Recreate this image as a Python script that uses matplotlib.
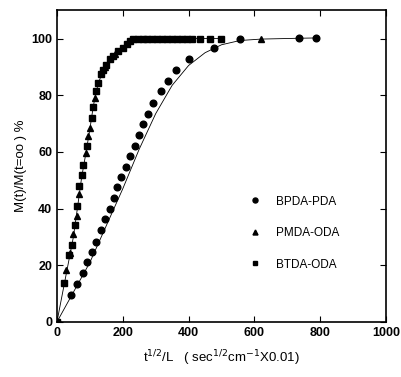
import numpy as np
import matplotlib
matplotlib.use('Agg')
import matplotlib.pyplot as plt

plt.rcParams['font.family'] = ['Liberation Sans', 'DejaVu Sans']

# BPDA-PDA (circles)
bpda_x = [0, 42, 62, 78, 92, 107, 120, 134, 147, 161, 173, 183, 195, 209, 222, 237, 250, 262,
          276, 291, 315, 336, 361, 401, 477, 556, 736, 786]
bpda_y = [0, 9.5, 13.4, 17.2, 21, 24.8, 28.3, 32.5, 36.3, 40, 43.7, 47.6, 51, 54.6, 58.5, 62.2,
          66, 70, 73.5, 77.1, 81.4, 85, 89, 92.6, 96.5, 100, 100.2, 100.2]
# PMDA-ODA (triangles)
pmda_x = [0, 29, 40, 50, 60, 68, 88, 95, 100, 115, 145, 175, 620]
pmda_y = [0, 18.4, 24.5, 31, 37.5, 45, 59.6, 65.5, 68.4, 79, 90, 94.5, 100]
# BTDA-ODA (squares)
btda_x = [0, 22, 36, 45, 55, 62, 67, 75, 80, 92, 105, 109, 120, 126, 135, 141, 150, 161, 170,
          186, 200, 212, 222, 232, 245, 260, 275, 290, 305, 320, 335, 350, 365, 380, 395, 410,
          434, 465, 497]
btda_y = [0, 13.7, 23.7, 27.2, 34.3, 41, 47.8, 52, 55.5, 62, 72, 76, 81.5, 84.3, 87.5, 89, 90.8,
          92.6, 93.8, 95.5, 96.8, 97.9, 99, 99.9, 100, 100, 100, 100, 100, 100, 100, 100, 100,
          100, 100, 100, 100, 100, 100]

# fitted curves
fit_slow_x = [0, 100, 200, 250, 300, 350, 400, 450, 500, 556, 620, 736, 786]
fit_slow_y = [0, 21, 47, 61, 73.5, 83.5, 90.5, 95, 97.8, 99.3, 99.8, 100.1, 100.2]
fit_fast_x = [0, 25, 50, 62, 75, 88, 100, 109, 116, 126, 141, 161, 186, 212, 232, 300, 400, 500]
fit_fast_y = [0, 15, 30, 40, 51, 59.6, 68, 75, 79.6, 84.3, 89, 92.6, 95.5, 97.9, 99.9, 100, 100, 100]

fig = plt.figure(figsize=(4.01, 3.77), dpi=100)
ax = fig.add_axes([0.142, 0.146, 0.821, 0.827])

ax.plot(fit_slow_x, fit_slow_y, color='black', lw=0.6)
ax.plot(fit_fast_x, fit_fast_y, color='black', lw=0.6)
ax.plot(bpda_x, bpda_y, 'o', color='black', ms=4.8, label='BPDA-PDA')
ax.plot(pmda_x, pmda_y, '^', color='black', ms=4.8, label='PMDA-ODA')
ax.plot(btda_x, btda_y, 's', color='black', ms=4.4, label='BTDA-ODA')

ax.set_xlim(0, 1000)
ax.set_ylim(0, 110)
ax.set_xticks([0, 200, 400, 600, 800, 1000])
ax.set_yticks([0, 20, 40, 60, 80, 100])
ax.tick_params(direction='in', top=True, right=True, labelsize=9, length=4, width=0.8)
for lab in ax.get_xticklabels() + ax.get_yticklabels():
    lab.set_fontweight('bold')
for s in ax.spines.values():
    s.set_linewidth(1.2)

ax.set_xlabel('t$^{1/2}$/L   ( sec$^{1/2}$cm$^{-1}$X0.01)', fontsize=9.5, labelpad=7)
ax.set_ylabel('M(t)/M(t=oo ) %', fontsize=9.5, labelpad=3)

ax.legend(loc='center left', bbox_to_anchor=(0.55, 0.285), frameon=False, fontsize=8.5,
          handlelength=1.0, handletextpad=1.3, labelspacing=1.65, markerscale=0.75)

fig.savefig('out.png', dpi=100)
